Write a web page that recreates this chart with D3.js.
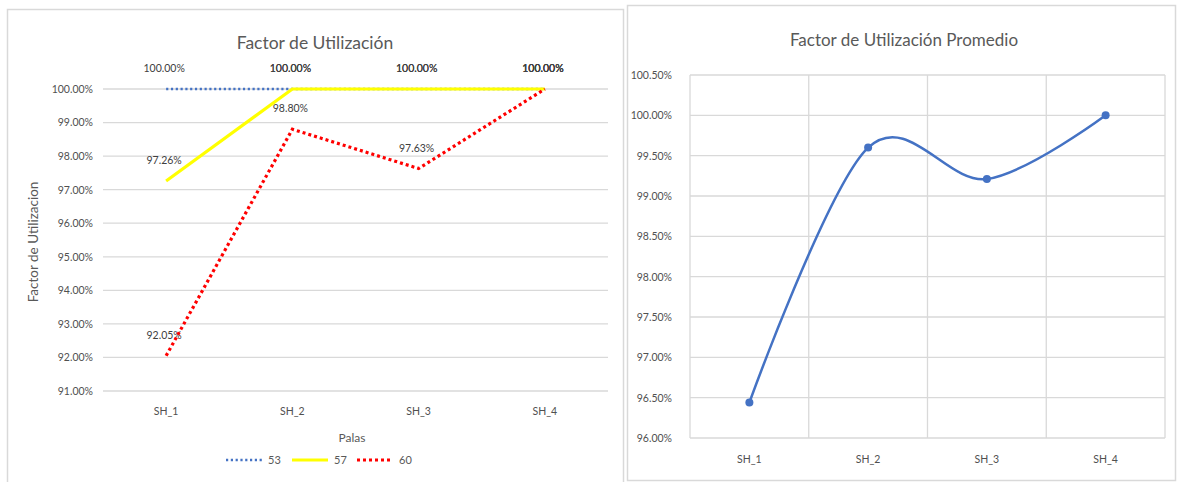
<!DOCTYPE html>
<html>
<head>
<meta charset="utf-8">
<script src="https://cdn.jsdelivr.net/npm/d3@7"></script>
<style>
  html, body { margin: 0; padding: 0; background: #fff; }
  svg { display: block; font-family: Lato, "Open Sans", sans-serif; }
</style>
</head>
<body>
<svg id="chart" width="1177" height="482"></svg>
<script>
// Categories (shovels)
const categories = ["SH_1", "SH_2", "SH_3", "SH_4"];

// Utilization factor per shovel, by series
const seriesNames = ["53", "57", "60"];
const values53 = [100.00, 100.00, 100.00, 100.00];
const values57 = [97.26, 100.00, 100.00, 100.00];
const values60 = [92.05, 98.80, 97.63, 100.00];

// Average utilization factor per shovel
const averageValues = [96.44, 99.60, 99.21, 100.00];

// Axis ticks
const leftTicks = [91, 92, 93, 94, 95, 96, 97, 98, 99, 100];
const rightTicks = [96, 96.5, 97, 97.5, 98, 98.5, 99, 99.5, 100, 100.5];

const svg = d3.select("#chart");
const gridColor = "#d9d9d9";
const textColor = "#595959";
const pct2 = d => d3.format(".2f")(d) + "%";

// ---------- Panel frames ----------
svg.append("rect").attr("x", 7.5).attr("y", 9.5).attr("width", 616).attr("height", 490)
  .attr("fill", "#fff").attr("stroke", gridColor).attr("stroke-width", 1.5);
svg.append("rect").attr("x", 627.5).attr("y", 5.5).attr("width", 548).attr("height", 475)
  .attr("fill", "#fff").attr("stroke", gridColor).attr("stroke-width", 1.5);

// ---------- Left chart: Factor de Utilización ----------
const xL = d3.scaleBand().domain(categories).range([103, 608]);
const yL = d3.scaleLinear().domain([91, 100]).range([391, 89]);
const cxL = c => xL(c) + xL.bandwidth() / 2;

svg.append("text").attr("x", 315).attr("y", 49).attr("text-anchor", "middle")
  .attr("font-size", 17.5).attr("fill", textColor).text("Factor de Utilización");

// horizontal gridlines
svg.append("g").selectAll("line").data(leftTicks).join("line")
  .attr("x1", 103).attr("x2", 608)
  .attr("y1", d => yL(d)).attr("y2", d => yL(d))
  .attr("stroke", gridColor).attr("stroke-width", 1.3);

// y axis labels
const axL = svg.append("g").attr("transform", "translate(103,0)")
  .call(d3.axisLeft(yL).tickValues(leftTicks).tickFormat(pct2).tickSize(0).tickPadding(10));
axL.select(".domain").remove();
axL.selectAll("text").attr("font-size", 10.5).attr("fill", "#505050").attr("font-family", "Lato, sans-serif");

// x axis labels
const axLx = svg.append("g").attr("transform", "translate(0,391)")
  .call(d3.axisBottom(xL).tickSize(0).tickPadding(17));
axLx.select(".domain").remove();
axLx.selectAll("text").attr("font-size", 10.5).attr("fill", "#505050").attr("font-family", "Lato, sans-serif");

// axis titles
svg.append("text").attr("transform", "translate(38,242) rotate(-90)").attr("text-anchor", "middle")
  .attr("font-size", 13.5).attr("fill", textColor).text("Factor de Utilizacion");
svg.append("text").attr("x", 352).attr("y", 442).attr("text-anchor", "middle")
  .attr("font-size", 12).attr("fill", textColor).text("Palas");

const series = [
  { name: seriesNames[0], values: values53, color: "#4472C4", width: 2.5, dash: "2.2,2.6" },
  { name: seriesNames[1], values: values57, color: "#FFFF00", width: 3.2, dash: null },
  { name: seriesNames[2], values: values60, color: "#FF0000", width: 3.2, dash: "3,3" }
];

const lineL = d3.line().x((d, i) => cxL(categories[i])).y(d => yL(d));

// data labels (above each point)
series.forEach(s => {
  svg.append("g").selectAll("text").data(s.values).join("text")
    .attr("x", (d, i) => cxL(categories[i]) - 2)
    .attr("y", d => yL(d) - 17)
    .attr("text-anchor", "middle")
    .attr("font-size", 10.5).attr("fill", "#404040")
    .text(pct2);
});

// series lines
series.forEach(s => {
  svg.append("path").datum(s.values)
    .attr("d", lineL)
    .attr("fill", "none")
    .attr("stroke", s.color)
    .attr("stroke-width", s.width)
    .attr("stroke-dasharray", s.dash);
});

// legend
const legendX = [226, 292, 357];
const legend = svg.append("g");
series.forEach((s, i) => {
  legend.append("line")
    .attr("x1", legendX[i]).attr("x2", legendX[i] + 36)
    .attr("y1", 460).attr("y2", 460)
    .attr("stroke", s.color).attr("stroke-width", s.width)
    .attr("stroke-dasharray", s.dash);
  legend.append("text").attr("x", legendX[i] + 42).attr("y", 464)
    .attr("font-size", 11).attr("fill", textColor).text(s.name);
});

// ---------- Right chart: Factor de Utilización Promedio ----------
const xR = d3.scaleBand().domain(categories).range([690, 1165]);
const yR = d3.scaleLinear().domain([96, 100.5]).range([438, 75]);
const cxR = c => xR(c) + xR.bandwidth() / 2;

svg.append("text").attr("x", 904).attr("y", 46).attr("text-anchor", "middle")
  .attr("font-size", 17).attr("fill", textColor).text("Factor de Utilización Promedio");

// horizontal gridlines
svg.append("g").selectAll("line").data(rightTicks).join("line")
  .attr("x1", 690).attr("x2", 1165)
  .attr("y1", d => yR(d)).attr("y2", d => yR(d))
  .attr("stroke", gridColor).attr("stroke-width", 1.3);

// vertical gridlines at category boundaries
svg.append("g").selectAll("line").data(categories).join("line")
  .attr("x1", d => xR(d)).attr("x2", d => xR(d))
  .attr("y1", 75).attr("y2", 438)
  .attr("stroke", gridColor).attr("stroke-width", 1.3);
svg.append("line").attr("x1", 1165).attr("x2", 1165).attr("y1", 75).attr("y2", 438)
  .attr("stroke", gridColor).attr("stroke-width", 1.3);

const axR = svg.append("g").attr("transform", "translate(690,0)")
  .call(d3.axisLeft(yR).tickValues(rightTicks).tickFormat(pct2).tickSize(0).tickPadding(18));
axR.select(".domain").remove();
axR.selectAll("text").attr("font-size", 10.5).attr("fill", "#505050").attr("font-family", "Lato, sans-serif");

const axRx = svg.append("g").attr("transform", "translate(0,438)")
  .call(d3.axisBottom(xR).tickSize(0).tickPadding(18));
axRx.select(".domain").remove();
axRx.selectAll("text").attr("font-size", 10.5).attr("fill", "#505050").attr("font-family", "Lato, sans-serif");

// smoothed average line
const lineR = d3.line().x((d, i) => cxR(categories[i])).y(d => yR(d))
  .curve(d3.curveCatmullRom.alpha(0));
svg.append("path").datum(averageValues).attr("d", lineR)
  .attr("fill", "none").attr("stroke", "#4472C4").attr("stroke-width", 2.5);

svg.append("g").selectAll("circle").data(averageValues).join("circle")
  .attr("cx", (d, i) => cxR(categories[i])).attr("cy", d => yR(d)).attr("r", 4)
  .attr("fill", "#4472C4");
</script>
</body>
</html>
